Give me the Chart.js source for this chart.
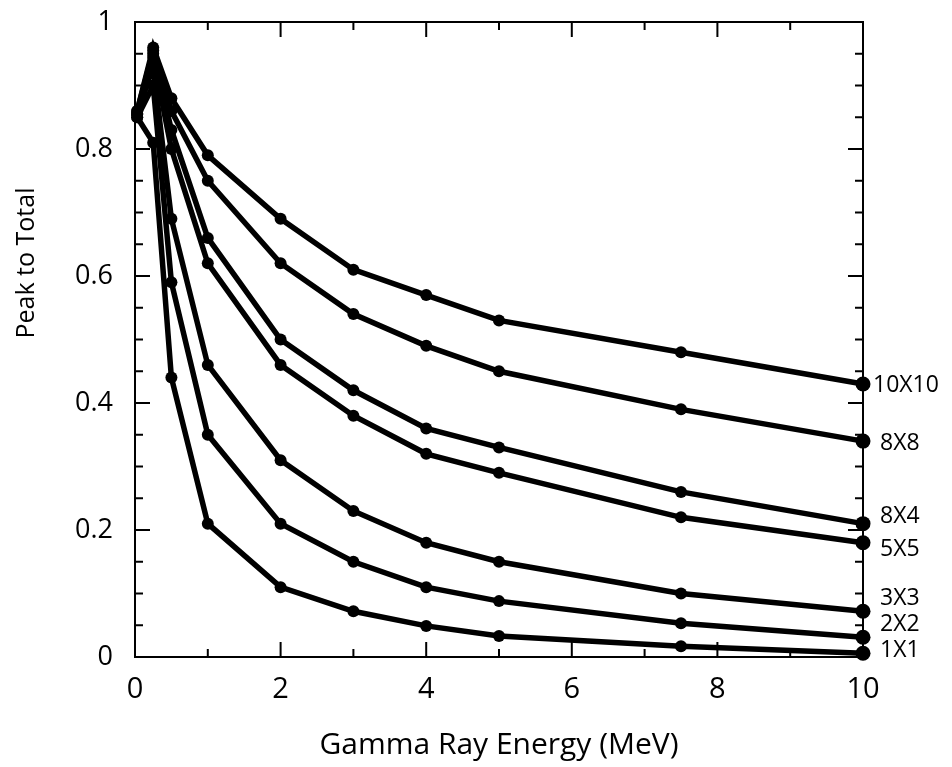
<!DOCTYPE html>
<html>
<head>
<meta charset="utf-8">
<script src="https://cdn.jsdelivr.net/npm/chart.js@4.4.1/dist/chart.umd.min.js"></script>
<style>
    body { margin: 0; background: #fff; }
    canvas { display: block; }
</style>
</head>
<body>
<canvas id="graph" width="952" height="767"></canvas>
<script>
"use strict"

// *** DATI *** //
let energies = [0.03, 0.25, 0.5, 1, 2, 3, 4, 5, 7.5, 10];

let seriesNames = ["10X10", "8X8", "8X4", "5X5", "3X3", "2X2", "1X1"];
let s10x10 = [0.86, 0.96, 0.88, 0.79, 0.69, 0.61, 0.57, 0.53, 0.48, 0.43];
let s8x8 = [0.86, 0.955, 0.86, 0.75, 0.62, 0.54, 0.49, 0.45, 0.39, 0.34];
let s8x4 = [0.855, 0.95, 0.83, 0.66, 0.50, 0.42, 0.36, 0.33, 0.26, 0.21];
let s5x5 = [0.855, 0.945, 0.80, 0.62, 0.46, 0.38, 0.32, 0.29, 0.22, 0.18];
let s3x3 = [0.855, 0.93, 0.69, 0.46, 0.31, 0.23, 0.18, 0.15, 0.10, 0.072];
let s2x2 = [0.85, 0.90, 0.59, 0.35, 0.21, 0.15, 0.11, 0.088, 0.053, 0.031];
let s1x1 = [0.85, 0.81, 0.44, 0.21, 0.11, 0.072, 0.049, 0.033, 0.017, 0.006];

let xTicks = [0, 2, 4, 6, 8, 10];
let yTicks = [0, 0.2, 0.4, 0.6, 0.8, 1];

let allSeries = [s10x10, s8x8, s8x4, s5x5, s3x3, s2x2, s1x1];

// spostamenti delle etichette a destra (px)
let labelShift = [[-7, 2], [0, 2], [0, -7], [0, 7], [0, -13], [0, -13], [0, -3]];

let fontName = "'Open Sans', sans-serif";

// cornice con tacche verso l'interno su tutti i lati
let framePlugin = {
    id: "frame",
    beforeDatasetsDraw(chart) {
        let ctx = chart.ctx, area = chart.chartArea;
        let sx = chart.scales.x, sy = chart.scales.y;
        ctx.save();
        ctx.strokeStyle = "#000";
        ctx.lineWidth = 2;
        ctx.strokeRect(area.left, area.top, area.right - area.left, area.bottom - area.top);
        ctx.beginPath();
        for (let i = 0; i <= 10; i++) {
            let px = sx.getPixelForValue(i);
            let len = (i % 2 == 0) ? 15 : 8;
            ctx.moveTo(px, area.bottom); ctx.lineTo(px, area.bottom - len);
            ctx.moveTo(px, area.top); ctx.lineTo(px, area.top + len);
        }
        for (let i = 0; i <= 20; i++) {
            let py = sy.getPixelForValue(i * 0.05);
            let len = (i % 4 == 0) ? 15 : 8;
            ctx.moveTo(area.left, py); ctx.lineTo(area.left + len, py);
            ctx.moveTo(area.right, py); ctx.lineTo(area.right - len, py);
        }
        ctx.stroke();
        ctx.restore();
    },
    afterDatasetsDraw(chart) {
        let ctx = chart.ctx;
        let sx = chart.scales.x, sy = chart.scales.y;
        ctx.save();
        ctx.fillStyle = "#000";
        ctx.font = "23px " + fontName;
        ctx.textAlign = "left";
        ctx.textBaseline = "middle";
        let last = energies.length - 1;
        for (let i = 0; i < seriesNames.length; i++) {
            let px = sx.getPixelForValue(energies[last]);
            let py = sy.getPixelForValue(allSeries[i][last]);
            ctx.fillText(seriesNames[i], px + 17 + labelShift[i][0], py + labelShift[i][1]);
        }
        // titolo asse y
        ctx.translate(27, 263);
        ctx.rotate(-Math.PI / 2);
        ctx.textAlign = "center";
        ctx.font = "25px " + fontName;
        ctx.fillText("Peak to Total", 0, 0);
        ctx.restore();
    }
};

let datasets = [];
for (let i = 0; i < seriesNames.length; i++) {
    datasets.push({
        label: seriesNames[i],
        data: energies.map((e, j) => ({ x: e, y: allSeries[i][j] })),
        borderColor: "#000",
        backgroundColor: "#000",
        borderWidth: 5.5,
        pointRadius: ctx => ctx.dataIndex == energies.length - 1 ? 7.5 : 6,
        pointBorderWidth: 0,
        tension: 0,
        clip: false
    });
}

let chart = new Chart(document.getElementById("graph"), {
    type: "line",
    data: { datasets: datasets },
    plugins: [framePlugin],
    options: {
        responsive: false,
        devicePixelRatio: 1,
        animation: false,
        layout: { padding: { left: 0, right: 89, top: 22, bottom: 0 } },
        plugins: { legend: { display: false }, tooltip: { enabled: false } },
        scales: {
            x: {
                type: "linear",
                min: 0, max: 10,
                afterFit: scale => {
                    scale.height = 110;
                    scale.paddingLeft = 0;
                    scale.paddingRight = 0;
                },
                afterBuildTicks: scale => { scale.ticks = xTicks.map(v => ({ value: v })); },
                grid: { display: false, drawTicks: false },
                border: { display: false },
                ticks: { padding: 15, color: "#000", font: { family: fontName, size: 29 } },
                title: {
                    display: true,
                    text: "Gamma Ray Energy (MeV)",
                    color: "#000",
                    font: { family: fontName, size: 30 },
                    padding: { top: 0, bottom: 4 }
                }
            },
            y: {
                min: 0, max: 1,
                afterFit: scale => {
                    scale.width = 135;
                    scale.paddingTop = 0;
                    scale.paddingBottom = 0;
                },
                afterBuildTicks: scale => { scale.ticks = yTicks.map(v => ({ value: v })); },
                grid: { display: false, drawTicks: false },
                border: { display: false },
                ticks: {
                    padding: 22, color: "#000",
                    font: { family: fontName, size: 27 },
                    callback: v => String(+v.toFixed(1))
                }
            }
        }
    }
});
</script>
</body>
</html>
